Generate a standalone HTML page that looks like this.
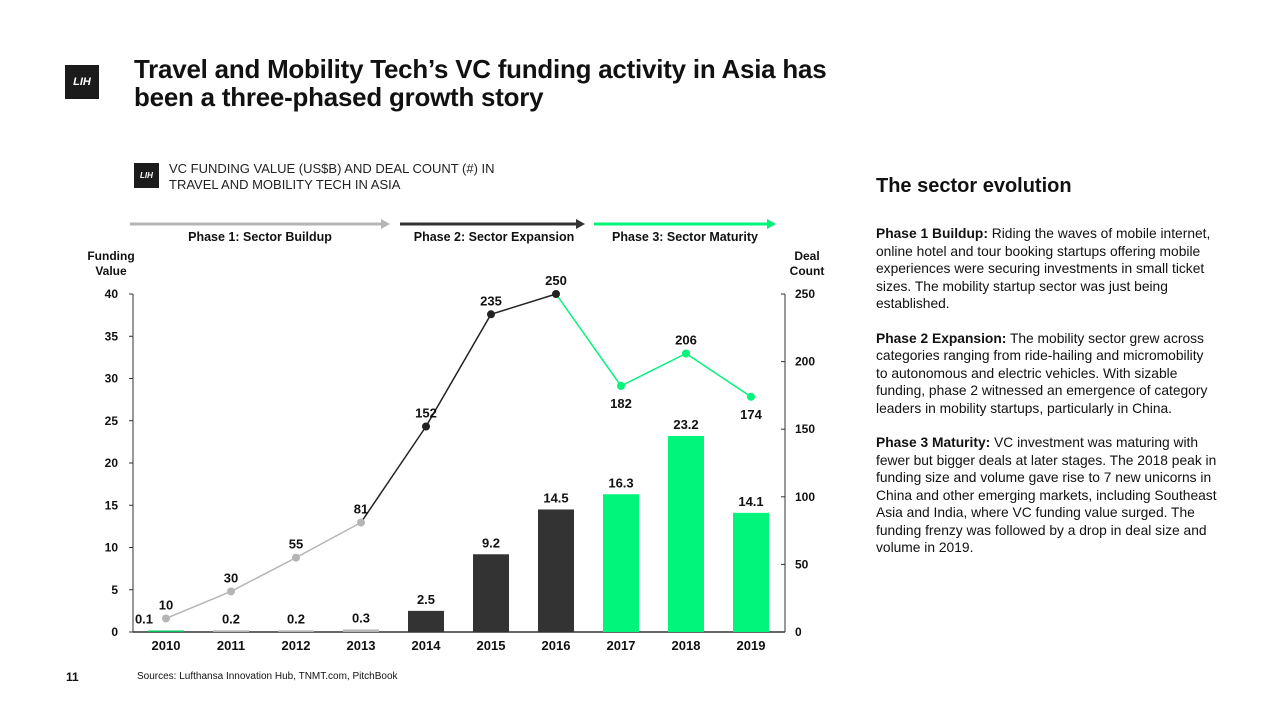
<!DOCTYPE html>
<html><head><meta charset="utf-8">
<style>
body{margin:0;width:1280px;height:720px;background:#fff;font-family:"Liberation Sans",sans-serif;color:#111;position:relative;overflow:hidden}
.abs{position:absolute}
.logo{background:#1b1b1b;color:#fff;font-style:italic;font-weight:bold;text-align:center}
h1{position:absolute;left:134px;top:56px;margin:0;font-size:25.9px;line-height:28px;font-weight:bold;letter-spacing:-0.2px}
.side p{margin:0 0 17px 0;font-size:13.8px;line-height:17.5px}
</style></head><body>
<div class="abs logo" style="left:65px;top:65px;width:34px;height:34px;font-size:11px;line-height:34px">LIH</div>
<h1>Travel and Mobility Tech’s VC funding activity in Asia has<br>been a three-phased growth story</h1>
<div class="abs logo" style="left:134px;top:163px;width:25px;height:25px;font-size:8px;line-height:25px">LIH</div>
<div class="abs" style="left:169px;top:161px;font-size:13px;line-height:16px;color:#222">VC FUNDING VALUE (US$B) AND DEAL COUNT (#) IN<br>TRAVEL AND MOBILITY TECH IN ASIA</div>
<div class="abs" style="left:876px;top:175px;font-size:20px;font-weight:bold">The sector evolution</div>
<div class="abs side" style="left:876px;top:225px;width:342px">
<p><b>Phase 1 Buildup:</b> Riding the waves of mobile internet, online hotel and tour booking startups offering mobile experiences were securing investments in small ticket sizes. The mobility startup sector was just being established.</p>
<p><b>Phase 2 Expansion:</b> The mobility sector grew across categories ranging from ride-hailing and micromobility to autonomous and electric vehicles. With sizable funding, phase 2 witnessed an emergence of category leaders in mobility startups, particularly in China.</p>
<p><b>Phase 3 Maturity:</b> VC investment was maturing with fewer but bigger deals at later stages. The 2018 peak in funding size and volume gave rise to 7 new unicorns in China and other emerging markets, including Southeast Asia and India, where VC funding value surged. The funding frenzy was followed by a drop in deal size and volume in 2019.</p>
</div>
<div class="abs" style="left:66px;top:670px;font-size:12px;font-weight:bold">11</div>
<div class="abs" style="left:137px;top:671px;font-size:10px">Sources: Lufthansa Innovation Hub, TNMT.com, PitchBook</div>
<svg id="chart" class="abs" style="left:0;top:0" width="1280" height="720"></svg>
<script>
const years=["2010","2011","2012","2013","2014","2015","2016","2017","2018","2019"];
const funding=[0.1,0.2,0.2,0.3,2.5,9.2,14.5,16.3,23.2,14.1];
const deals=[10,30,55,81,152,235,250,182,206,174];
const leftTicks=[0,5,10,15,20,25,30,35,40];
const rightTicks=[0,50,100,150,200,250];
const phaseOf=[0,0,0,0,1,1,1,2,2,2];
const phaseColors=["#b5b5b5","#333333","#00f57a"];
const lineColors=["#b5b5b5","#222222","#00f57a"];
const svg=document.getElementById('chart');
const NS="http://www.w3.org/2000/svg";
const x0=133,x1=785,yb=632,yt=294;
const xs=i=>166+i*65;
const yL=v=>yb-(v/40)*(yb-yt);
const yR=v=>yb-(v/250)*(yb-yt);
function el(t,a,txt){const e=document.createElementNS(NS,t);for(const k in a)e.setAttribute(k,a[k]);if(txt!==undefined)e.textContent=txt;svg.appendChild(e);return e;}
function txt(x,y,s,anchor,size){return el('text',{x:x,y:y,'text-anchor':anchor||'middle','font-size':size||13,'font-weight':'bold','font-family':'Liberation Sans, sans-serif',fill:'#111'},s);}
const phases=[[130,390,"Phase 1: Sector Buildup",260],[400,585,"Phase 2: Sector Expansion",494],[594,776,"Phase 3: Sector Maturity",685]];
phases.forEach((p,i)=>{
 let l=el('line',{x1:p[0],y1:224,x2:p[1]-8,y2:224,stroke:phaseColors[i],'stroke-width':3});
 
 
 el('polygon',{points:`${p[1]-9},219 ${p[1]},224 ${p[1]-9},229`,fill:phaseColors[i]});
 let t=txt(p[3],241,p[2],'middle',12.5);
 
 
});
el('line',{x1:x0,y1:yt,x2:x0,y2:yb,stroke:'#333','stroke-width':1});
el('line',{x1:x0,y1:yb,x2:x1,y2:yb,stroke:'#333','stroke-width':1.5});
el('line',{x1:x1,y1:yt,x2:x1,y2:yb,stroke:'#333','stroke-width':1});
leftTicks.forEach(v=>{el('line',{x1:x0-4,y1:yL(v),x2:x0,y2:yL(v),stroke:'#333'});let t=txt(118,yL(v)+4,v,'end',12);});
rightTicks.forEach(v=>{el('line',{x1:x1,y1:yR(v),x2:x1-4,y2:yR(v),stroke:'#333'});let t=txt(795,yR(v)+4,v,'start',12);});
txt(111,260,"Funding",'middle',12);txt(111,275,"Value",'middle',12);
txt(807,260,"Deal",'middle',12);txt(807,275,"Count",'middle',12);
funding.forEach((v,i)=>{
 const h=Math.max(yb-yL(v),1.5);
 const c=i===0?'#00c060':phaseColors[phaseOf[i]];
 const b=el('rect',{x:xs(i)-18,y:yb-h,width:36,height:h,fill:c});
 
 
 const lx=i===0?xs(i)-22:xs(i);
 txt(lx,yb-h-7,v,'middle',13);
 const yl=txt(xs(i),650,years[i],'middle',13);
 
 
});
for(let i=0;i<deals.length-1;i++){
 const c=lineColors[phaseOf[i+1]===2&&phaseOf[i]===1?2:phaseOf[i+1]===1&&phaseOf[i]===0?1:phaseOf[i]];
 const seg=el('line',{x1:xs(i),y1:yR(deals[i]),x2:xs(i+1),y2:yR(deals[i+1]),stroke:c,'stroke-width':1.5});
 
 
}
const below=[7,9];
deals.forEach((v,i)=>{
 const p=el('circle',{cx:xs(i),cy:yR(v),r:4,fill:i<4?'#b5b5b5':lineColors[phaseOf[i]]});
 
 
 const ly=below.includes(i)?yR(v)+22:yR(v)-9;
 txt(xs(i),ly,v,'middle',13);
});
</script>
</body></html>
